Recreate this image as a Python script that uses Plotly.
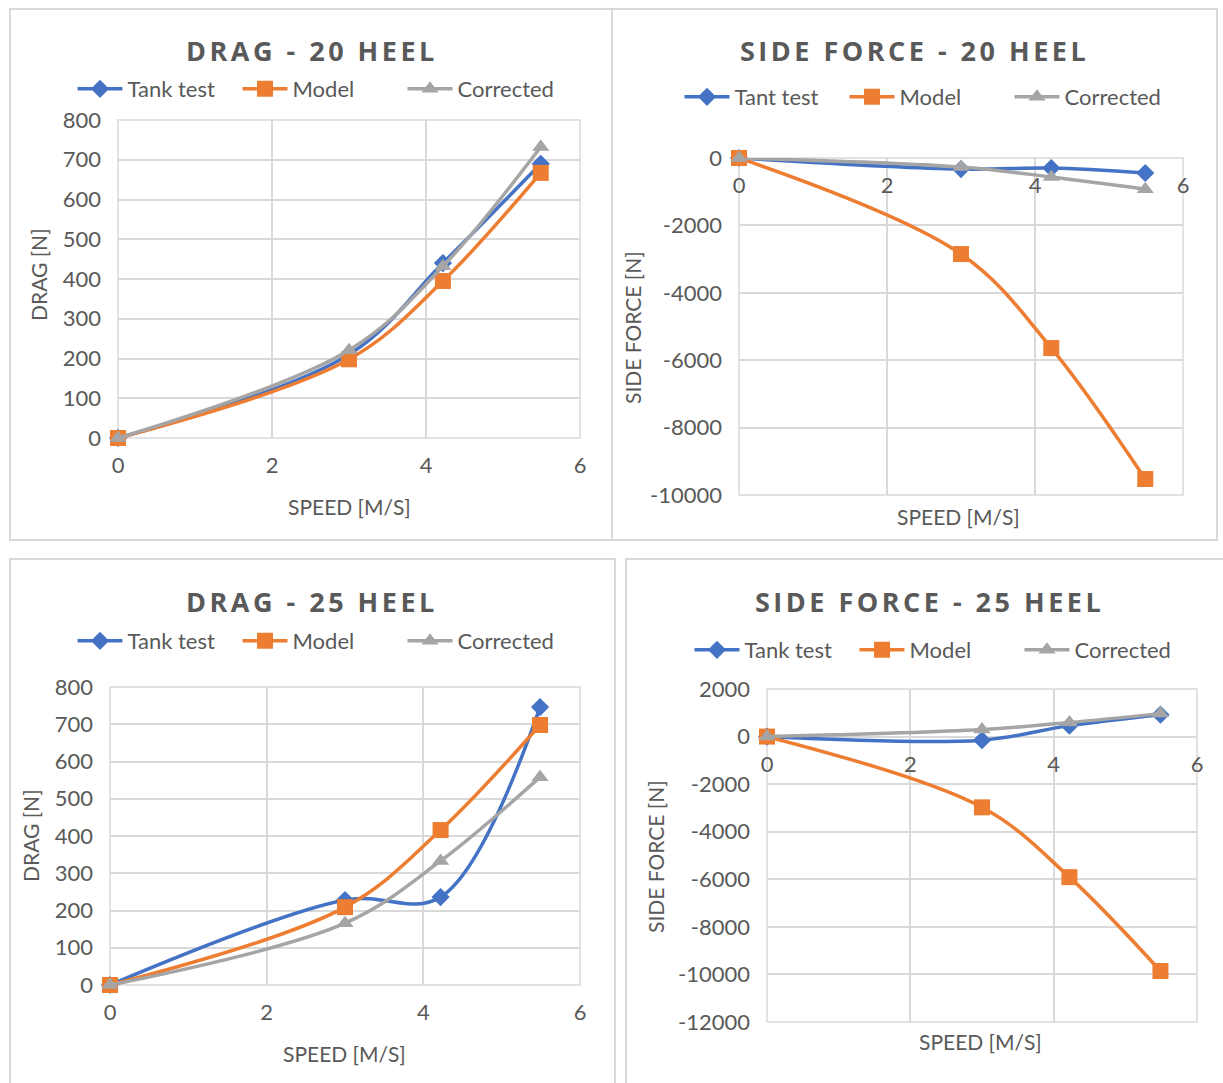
import plotly.graph_objects as go

W, H = 1223, 1083

speed = [0, 3.0, 4.22, 5.49]

drag20_tank = [0, 210, 440, 690]
drag20_model = [0, 198, 395, 667]
drag20_corr = [0, 221, 432, 732]

side20_tank = [0, -330, -300, -445]
side20_model = [0, -2850, -5640, -9525]
side20_corr = [0, -270, -564, -925]

drag25_tank = [0, 228, 236, 746]
drag25_model = [0, 209, 416, 698]
drag25_corr = [0, 166, 333, 558]

side25_tank = [0, -150, 460, 920]
side25_model = [0, -2975, -5910, -9855]
side25_corr = [0, 295, 590, 965]

titles = ["DRAG - 20 HEEL", "SIDE FORCE - 20 HEEL", "DRAG - 25 HEEL", "SIDE FORCE - 25 HEEL"]
legend_names = [
    ["Tank test", "Model", "Corrected"],
    ["Tant test", "Model", "Corrected"],
    ["Tank test", "Model", "Corrected"],
    ["Tank test", "Model", "Corrected"],
]
y_titles = ["DRAG [N]", "SIDE FORCE [N]", "DRAG [N]", "SIDE FORCE [N]"]
x_title = "SPEED [M/S]"
y_ranges = [[0, 800], [-10000, 0], [0, 800], [-12000, 2000]]
y_tickvals = [
    [0, 100, 200, 300, 400, 500, 600, 700, 800],
    [-10000, -8000, -6000, -4000, -2000, 0],
    [0, 100, 200, 300, 400, 500, 600, 700, 800],
    [-12000, -10000, -8000, -6000, -4000, -2000, 0, 2000],
]
y_ticktext = [
    ["0", "100", "200", "300", "400", "500", "600", "700", "800"],
    ["-10000", "-8000", "-6000", "-4000", "-2000", "0"],
    ["0", "100", "200", "300", "400", "500", "600", "700", "800"],
    ["-12000", "-10000", "-8000", "-6000", "-4000", "-2000", "0", "2000"],
]
x_tickvals = [0, 2, 4, 6]
series = [
    [drag20_tank, drag20_model, drag20_corr],
    [side20_tank, side20_model, side20_corr],
    [drag25_tank, drag25_model, drag25_corr],
    [side25_tank, side25_model, side25_corr],
]

# layout in pixels (left, top, right, bottom) of plot areas
plot_px = [(118, 120, 580, 438), (739, 158, 1183, 495), (110, 687, 580, 985), (767, 689, 1197, 1022)]
panel_px = [(10, 9, 612, 540), (612, 9, 1217, 540), (10, 559, 615, 1084), (626, 559, 1224, 1084)]
title_pos = [(312, 50), (914, 50), (312, 601), (929, 601)]
legend_pos = [(320, 89), (927, 97), (320, 641), (937, 650)]
ytitle_pos = [(38, 275), (632, 328), (30, 836), (655, 857)]
xtitle_pos = [(349, 506), (958, 516), (344, 1053), (980, 1041)]

colors = ["#4472C4", "#ED7D31", "#A5A5A5"]
symbols = ["diamond", "square", "triangle-up"]
msizes = [14, 16, 15]
TXT = "#595959"
GRID = "#D9D9D9"
FONT = "Lato"

def px_x(x):
    return x / W

def px_y(y):
    return (H - y) / H

fig = go.Figure()
annotations = []
shapes = []
layout = dict(
    width=W, height=H, autosize=False,
    margin=dict(l=0, r=0, t=0, b=0, pad=0, autoexpand=False),
    paper_bgcolor="white", plot_bgcolor="white",
    font=dict(family=FONT, color=TXT, size=21),
    showlegend=True,
)

for i in range(4):
    k = "" if i == 0 else str(i + 1)
    xa, ya = "x" + k, "y" + k
    leg = "legend" + k
    l, t, r, b = plot_px[i]
    xdom = [px_x(l), px_x(r)]
    ydom = [px_y(b), px_y(t)]
    yr = y_ranges[i]
    for j in range(3):
        fig.add_trace(go.Scatter(
            x=speed, y=series[i][j], name=legend_names[i][j],
            mode="lines+markers", line=dict(color=colors[j], width=3.5, shape="spline", smoothing=1),
            marker=dict(symbol=symbols[j], size=msizes[j], color=colors[j]),
            xaxis=xa, yaxis=ya, legend=leg, cliponaxis=False,
        ))
    if yr[0] < 0:
        pos = ydom[0] + (0 - yr[0]) / (yr[1] - yr[0]) * (ydom[1] - ydom[0])
        xanchor = dict(anchor="free", position=pos)
    else:
        xanchor = dict(anchor=ya)
    layout["xaxis" + k] = dict(
        domain=xdom, range=[0, 6], tickvals=x_tickvals, showgrid=True, gridcolor=GRID, gridwidth=1.5,
        zeroline=False, showline=False, ticks="", ticklabelstandoff=12, automargin=False,
        tickfont=dict(size=22, color=TXT, family=FONT), **xanchor,
    )
    layout["yaxis" + k] = dict(
        domain=ydom, range=yr, tickvals=y_tickvals[i], ticktext=y_ticktext[i],
        showgrid=True, gridcolor=GRID, gridwidth=1.5, automargin=False,
        zeroline=False, showline=False, ticks="", ticklabelstandoff=16, anchor=xa,
        tickfont=dict(size=22, color=TXT, family=FONT),
    )
    lx, ly = legend_pos[i]
    layout[leg] = dict(
        orientation="h", x=px_x(lx), y=px_y(ly), xanchor="center", yanchor="middle",
        font=dict(size=22, color=TXT, family=FONT), bgcolor="rgba(0,0,0,0)", itemwidth=45,
        entrywidth=105, entrywidthmode="pixels",
    )
    shapes.append(dict(type="rect", xref=xa + " domain", yref=ya + " domain", x0=0, x1=1, y0=0, y1=1,
                       line=dict(color=GRID, width=1.5), layer="below"))
    pl, pt, pr, pb = panel_px[i]
    shapes.append(dict(type="rect", xref="paper", yref="paper", x0=px_x(pl), x1=px_x(pr),
                       y0=px_y(pb), y1=px_y(pt), line=dict(color=GRID, width=2), layer="below"))
    tx, ty = title_pos[i]
    annotations.append(dict(
        text='<span style="letter-spacing:3.5px">' + titles[i] + '</span>', xref="paper", yref="paper",
        x=px_x(tx), y=px_y(ty), xanchor="center", yanchor="middle", showarrow=False,
        font=dict(size=27, color=TXT, family="Open Sans", weight="bold"),
    ))
    yx, yy = ytitle_pos[i]
    annotations.append(dict(
        text=y_titles[i], xref="paper", yref="paper", x=px_x(yx), y=px_y(yy), textangle=-90,
        xanchor="center", yanchor="middle", showarrow=False, font=dict(size=21, color=TXT, family=FONT),
    ))
    xx, xy = xtitle_pos[i]
    annotations.append(dict(
        text=x_title, xref="paper", yref="paper", x=px_x(xx), y=px_y(xy),
        xanchor="center", yanchor="middle", showarrow=False, font=dict(size=21, color=TXT, family=FONT),
    ))

layout["annotations"] = annotations
layout["shapes"] = shapes
fig.update_layout(**layout)
fig.write_html(
    "out.html",
    config={"displayModeBar": False},
    post_script="document.body.style.margin='0px';document.body.style.overflow='hidden';",
)
